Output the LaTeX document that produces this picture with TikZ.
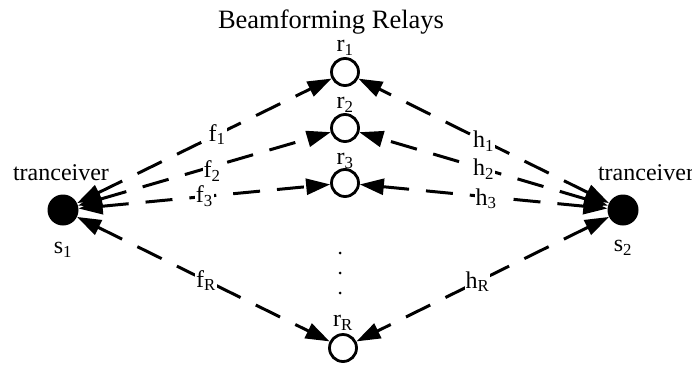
\documentclass[tikz,border=0pt]{standalone}
\usepackage{fontspec}
\setmainfont{Liberation Serif}
\usetikzlibrary{arrows.meta}

\begin{document}
\begin{tikzpicture}[x=1pt, y=-1pt, >={Triangle[length=24pt,width=16pt]},
  relay/.style={circle, draw, line width=2.8pt, minimum size=27pt, inner sep=0pt},
  user/.style={circle, fill, minimum size=31pt, inner sep=0pt},
  dot/.style={circle, fill, minimum size=3pt, inner sep=0pt},
  link/.style={<->, line width=3pt, dash pattern=on 27pt off 17pt},
  txt/.style={inner sep=1pt, font=\fontsize{24}{26}\selectfont},
  chan/.style={txt, fill=white}]
\useasboundingbox (0,0) rectangle (692,364);

% title
\node[txt, font=\fontsize{26.5}{28}\selectfont] (title) at (331,22) {Beamforming Relays};

% transceivers
\node[user] (s1) at (63,210) {};
\node[user] (s2) at (623,210) {};
\node[txt] (u1) at (61,173) {tranceiver};
\node[txt] (u2) at (646,173) {tranceiver};
\node[txt] (n1) at (63,250) {s\textsubscript{1}};
\node[txt] (n2) at (623,248) {s\textsubscript{2}};

% relays
\node[relay] (r1) at (345,72) {};
\node[relay] (r2) at (345,128) {};
\node[relay] (r3) at (345,183) {};
\node[relay] (rR) at (343,348) {};
\node[txt] (m1) at (345,48) {r\textsubscript{1}};
\node[txt] (m2) at (345,105) {r\textsubscript{2}};
\node[txt] (m3) at (345,161) {r\textsubscript{3}};
\node[txt] (mR) at (343,323) {r\textsubscript{R}};

% dots
\node[dot] (d1) at (340,253) {};
\node[dot] (d2) at (340,273) {};
\node[dot] (d3) at (340,293) {};

% links from s1
\draw[link] (s1) -- node[chan, pos=.55] (f1) {f\textsubscript{1}} (r1);
\draw[link] (s1) -- node[chan, pos=.53, yshift=-4pt] (f2) {f\textsubscript{2}} (r2);
\draw[link] (s1) -- node[chan, pos=.5] (f3) {f\textsubscript{3}} (r3);
\draw[link] (s1) -- node[chan, pos=.51] (fR) {f\textsubscript{R}} (rR);

% links from s2
\draw[link] (s2) -- node[chan, pos=.5] (h1) {h\textsubscript{1}} (r1);
\draw[link] (s2) -- node[chan, pos=.5] (h2) {h\textsubscript{2}} (r2);
\draw[link] (s2) -- node[chan, pos=.49, yshift=-2pt] (h3) {h\textsubscript{3}} (r3);
\draw[link] (s2) -- node[chan, pos=.52] (hR) {h\textsubscript{R}} (rR);
\end{tikzpicture}
\end{document}
